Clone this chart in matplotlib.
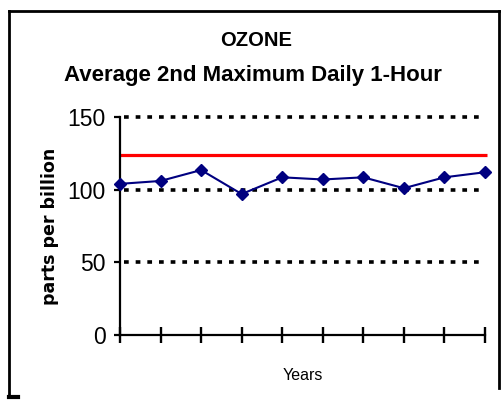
import matplotlib
matplotlib.use("Agg")
import matplotlib.pyplot as plt
from matplotlib.lines import Line2D
import numpy as np

plt.rcParams['lines.scale_dashes'] = False

# ---- data ----
title_top = "OZONE"
title_bottom = "Average 2nd Maximum Daily 1-Hour"
y_label = "parts per billion"
x_label = "Years"
ozone_values = [104, 106, 113.5, 97, 108.5, 107, 108.5, 101, 108.5, 112]
standard_value = 124
y_ticks = [0, 50, 100, 150]

W, H = 501, 400
fig = plt.figure(figsize=(W / 100, H / 100), dpi=100)
fig.patch.set_facecolor("white")

left, right, bottom, top = 120, 485, 335, 117
ax = fig.add_axes([left / W, 1 - bottom / H, (right - left) / W, (bottom - top) / H])

x = np.arange(len(ozone_values))
ax.set_xlim(0, len(ozone_values) - 1)
ax.set_ylim(0, 150)

# dotted gridlines
for yv in y_ticks[1:]:
    ax.plot([x[0] + 0.1, x[-1]], [yv, yv], color="black", lw=2.6,
            linestyle=(0, (3.4, 5.0)), zorder=1, clip_on=False)

# standard line
ax.plot([x[0], x[-1] + 0.05], [standard_value, standard_value], color="#ff0000",
        lw=2.3, solid_capstyle="butt", zorder=2, clip_on=False)

# data series
ax.plot(x, ozone_values, color="#000080", lw=1.5, marker="D", ms=6.3,
        markerfacecolor="#000080", markeredgecolor="#000080", zorder=3, clip_on=False)

for s in ["top", "right"]:
    ax.spines[s].set_visible(False)
for s in ["left", "bottom"]:
    ax.spines[s].set_linewidth(1.6)

ax.set_xticks(x)
ax.set_xticklabels([])
ax.tick_params(axis="x", direction="inout", length=11, width=1.7)
ax.set_yticks(y_ticks)
ax.tick_params(axis="y", direction="out", length=4.3, width=1.6, pad=6,
               labelsize=16.5)
for lab in ax.get_yticklabels():
    lab.set_fontfamily("Liberation Sans")

ax.set_ylabel(y_label, fontfamily="DejaVu Sans", fontweight="heavy", fontsize=12.5)
ax.yaxis.set_label_coords((50 - left) / (right - left), 0.5)
ax.yaxis.label.set_va("center")

ax.set_xlabel(x_label, fontfamily="Liberation Sans", fontsize=11.5)
ax.xaxis.set_label_coords(0.5, (bottom - 375) / (bottom - top))
ax.xaxis.label.set_va("center")

fig.text(256 / W, 1 - 41 / H, title_top, ha="center", va="center",
         fontfamily="Liberation Sans", fontweight="bold", fontsize=14.5)
fig.text(253 / W, 1 - 75 / H, title_bottom, ha="center", va="center",
         fontfamily="Liberation Sans", fontweight="bold", fontsize=16)

# frame around chart
def fline(xs, ys, lw=2.0):
    fig.add_artist(Line2D([v / W for v in xs], [1 - v / H for v in ys],
                          transform=fig.transFigure, color="black", lw=lw,
                          solid_capstyle="projecting"))

fline([9, 499], [11, 11])
fline([9, 9], [11, 397])
fline([499, 499], [11, 388])
fline([9, 18], [397, 397], lw=3)

fig.savefig("out.png", dpi=100, facecolor="white")
